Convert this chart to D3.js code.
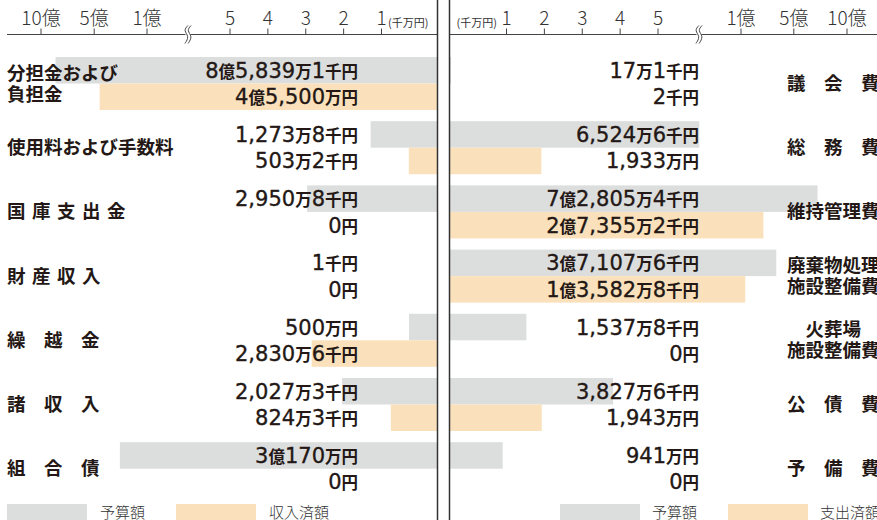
<!DOCTYPE html>
<html>
<head>
<meta charset="utf-8">
<script src="https://cdn.jsdelivr.net/npm/d3@7"></script>
<style>
  body { margin: 0; background: #fff; }
  svg { display: block; }
</style>
</head>
<body>
<div id="vis-holder"></div>
<script>
// data (units: 千円)
const revCats = ["分担金および\n負担金", "使用料および手数料", "国 庫 支 出 金", "財 産 収 入", "繰 越 金", "諸 収 入", "組 合 債"];
const revBudget = [858391, 12738, 29508, 1, 5000, 20273, 301700];
const revActual = [455000, 5032, 0, 0, 28306, 8243, 0];

const expCats = ["議 会 費", "総 務 費", "維持管理費", "廃棄物処理\n施設整備費", "火葬場\n施設整備費", "公 債 費", "予 備 費"];
const expBudget = [171, 65246, 728054, 371076, 15378, 38276, 9410];
const expActual = [2, 19330, 273552, 135828, 0, 19430, 0];

const tickValues = [10000, 20000, 30000, 40000, 50000, 100000, 500000, 1000000];
const tickLabels = ["1", "2", "3", "4", "5", "1億", "5億", "10億"];
const revSeries = ["予算額", "収入済額"];
const expSeries = ["予算額", "支出済額"];

const w = 877;
const h = 520;
const GRAY = "#dcdddd";
const ORANGE = "#fae1bb";
const INK = "#231815";
const CJK = "'Noto Sans CJK JP', 'Noto Sans', sans-serif";
const NUM = "'DejaVu Sans', 'Noto Sans CJK JP', sans-serif";

const svg = d3.select("#vis-holder").append("svg")
    .attr("width", w)
    .attr("height", h);

// broken scale: linear 0-1, 1-5 (千万円), break, then 1億 / 5億 / 10億
const knots = [0, 10000, 50000, 65000, 100000, 500000, 1000000];
const offs = [0, 56, 207.5, 249, 290.5, 343.3, 396.5];
const leftZero = 437, rightZero = 450;
const xLeft = d3.scaleLinear().domain(knots).range(offs.map(o => leftZero - o));
const xRight = d3.scaleLinear().domain(knots).range(offs.map(o => rightZero + o));

const y = d3.scaleBand().domain(d3.range(7)).range([57, 495.2]).paddingInner(0.174).paddingOuter(0);
const half = y.bandwidth() / 2;

// value text like 8億5,839万1千円
function fmt(v) {
    if (v === 0) return [["0", 1], ["円", 0]];
    const oku = Math.floor(v / 100000), man = Math.floor((v % 100000) / 10), sen = v % 10;
    const s = [];
    if (oku) s.push([String(oku), 1], ["億", 0]);
    if (man) s.push([d3.format(",")(man), 1], ["万", 0]);
    if (sen) s.push([String(sen), 1], ["千円", 0]);
    else s.push(["円", 0]);
    return s;
}

function panel(side, cats, budget, actual, series) {
    const isLeft = side === "left";
    const x = isLeft ? xLeft : xRight;
    const zero = isLeft ? leftZero : rightZero;
    const g = svg.append("g");

    // bars
    [budget, actual].forEach((vals, k) => {
        g.selectAll(null)
            .data(vals)
            .enter()
            .append("rect")
            .attr("x", d => isLeft ? x(d) : zero)
            .attr("y", (d, i) => y(i) + k * half)
            .attr("width", d => Math.abs(x(d) - zero))
            .attr("height", half)
            .attr("fill", k === 0 ? GRAY : ORANGE);
    });

    // value labels
    const labelX = isLeft ? 358 : 699;
    [budget, actual].forEach((vals, k) => {
        const t = g.selectAll(null)
            .data(vals)
            .enter()
            .append("text")
            .attr("x", labelX)
            .attr("y", (d, i) => y(i) + k * half + half / 2 + 7.5)
            .attr("text-anchor", "end")
            .attr("fill", INK);
        t.selectAll("tspan")
            .data(d => fmt(d))
            .enter()
            .append("tspan")
            .text(d => d[0])
            .attr("font-family", d => d[1] ? NUM : CJK)
            .attr("font-size", d => d[1] ? 21 : 16.5)
            .attr("font-weight", d => d[1] ? 400 : 700)
            .attr("stroke", d => d[1] ? INK : "none")
            .attr("stroke-width", 0.35);
    });

    // category labels
    const fs = 18.5;
    const colX = isLeft ? 7 : 787;
    const colW = 92.5;
    cats.forEach((c, i) => {
        const lines = c.split("\n");
        const cy = y(i) + y.bandwidth() / 2;
        lines.forEach((line, j) => {
            const spaced = line.includes(" ");
            const chars = line.replace(/ /g, "");
            const n = chars.length;
            const ls = spaced ? (n === 3 ? 18.5 : 6.5) : 0;
            const lw = n * fs + (n - 1) * ls;
            const lx = isLeft ? colX : colX + (colW - lw) / 2;
            g.append("text")
                .attr("x", lx)
                .attr("y", cy + (j - (lines.length - 1) / 2) * 21 + 6.5)
                .attr("font-family", CJK)
                .attr("font-size", fs)
                .attr("font-weight", 700)
                .attr("letter-spacing", ls)
                .attr("fill", INK)
                .text(chars);
        });
    });

    // axis
    const ax = g.append("g").attr("transform", "translate(0,34.5)");
    ax.append("line")
        .attr("x1", isLeft ? 7 : rightZero)
        .attr("x2", isLeft ? leftZero : w)
        .attr("stroke", "#444");
    ax.call(d3.axisTop(x).tickValues(tickValues).tickSize(6).tickFormat((d, i) => tickLabels[i]))
        .call(a => a.select(".domain").remove())
        .call(a => a.selectAll(".tick line").attr("stroke", "#444"))
        .call(a => a.selectAll(".tick text")
            .attr("y", -10)
            .attr("fill", "#333")
            .attr("font-family", CJK)
            .attr("font-weight", 300)
            .attr("font-size", 19));
    ax.append("text")
        .attr("x", isLeft ? 388 : 497)
        .attr("y", -8)
        .attr("text-anchor", isLeft ? "start" : "end")
        .attr("font-family", CJK)
        .attr("font-size", 11)
        .attr("fill", "#333")
        .text("(千万円)");

    // break mark
    const bx = x(65000);
    ax.append("rect")
        .attr("x", bx - 2.5).attr("y", -2).attr("width", 5).attr("height", 4)
        .attr("fill", "#fff");
    const wave = d3.line().curve(d3.curveBasis);
    [-1.6, 1.6].forEach(dx => {
        ax.append("path")
            .attr("d", wave([[bx + dx + 1.5, -9], [bx + dx - 3, -4], [bx + dx + 3, 2], [bx + dx - 1.5, 9]]))
            .attr("fill", "none")
            .attr("stroke", "#444")
            .attr("stroke-width", 1);
    });

    // panel edge
    g.append("line")
        .attr("x1", zero + (isLeft ? 0.5 : -0.5)).attr("x2", zero + (isLeft ? 0.5 : -0.5))
        .attr("y1", 0).attr("y2", h)
        .attr("stroke", "#333")
        .attr("stroke-width", 1.5);

    // legend
    const lg = isLeft ? [[7, 100], [176, 269]] : [[560, 652], [728, 820]];
    series.forEach((s, k) => {
        g.append("rect")
            .attr("x", lg[k][0]).attr("y", 504)
            .attr("width", 80).attr("height", 18)
            .attr("fill", k === 0 ? GRAY : ORANGE);
        g.append("text")
            .attr("x", lg[k][1]).attr("y", 518)
            .attr("font-family", CJK)
            .attr("font-weight", 300)
            .attr("font-size", 15)
            .attr("fill", "#333")
            .text(s);
    });
}

panel("left", revCats, revBudget, revActual, revSeries);
panel("right", expCats, expBudget, expActual, expSeries);
</script>
</body>
</html>
